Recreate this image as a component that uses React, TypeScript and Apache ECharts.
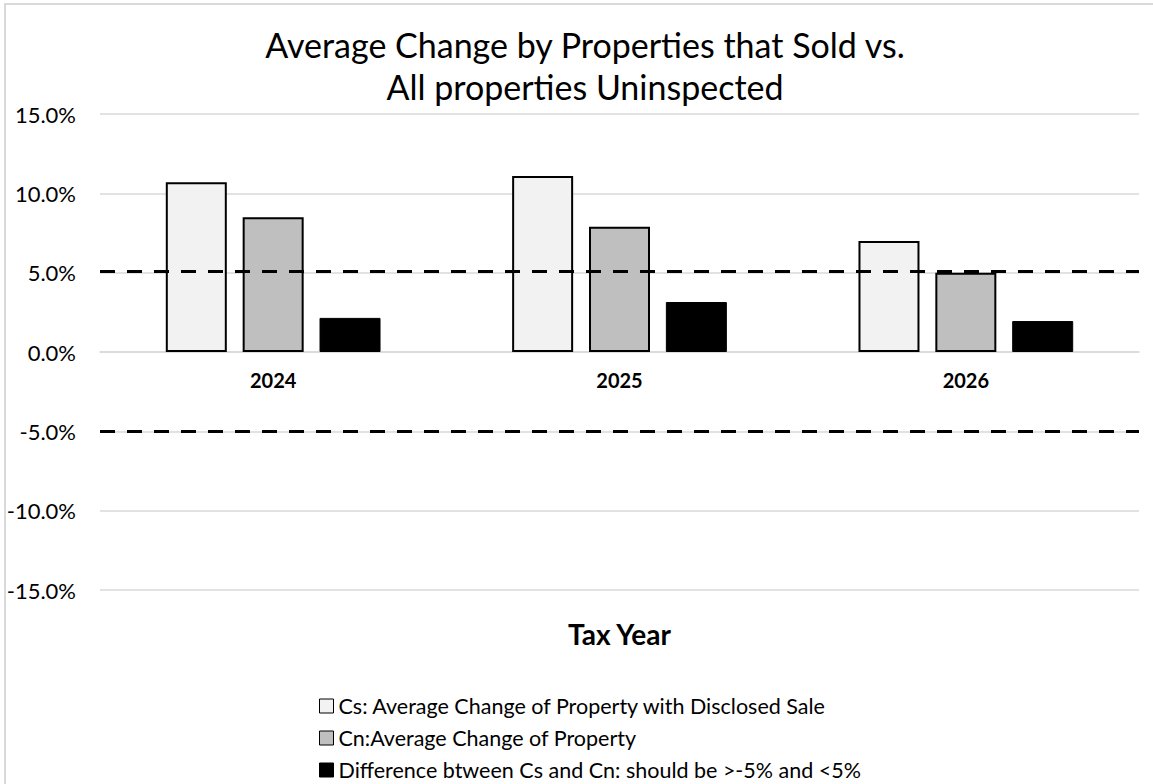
import React, { useEffect, useRef } from "react";
import * as echarts from "echarts";

const categories = ["2024", "2025", "2026"];
const csValues = [10.7, 11.1, 7.0];
const cnValues = [8.5, 7.9, 5.0];
const diffValues = [2.15, 3.15, 1.95];
const thresholdUpper = 5.1;
const thresholdLower = -5.0;
const seriesNames = [
  "Cs: Average Change of Property with Disclosed Sale",
  "Cn:Average Change of Property",
  "Difference btween Cs and Cn: should be >-5% and <5%",
];
const seriesColors = ["#f2f2f2", "#bfbfbf", "#000000"];
const titleLines = ["Average Change by Properties that Sold vs.", "All properties Uninspected"];
const xAxisTitle = "Tax Year";

const FONT = "Lato, 'Noto Sans', sans-serif";

export default function App() {
  const ref = useRef<HTMLDivElement>(null);
  useEffect(() => {
    document.body.style.margin = "0";
    const chart = echarts.init(ref.current!, null, { renderer: "svg" });
    const barBase = {
      type: "bar" as const,
      barWidth: 61,
      barGap: "26%",
    };
    const legendTops = [695, 727, 759];
    chart.setOption({
      animation: false,
      backgroundColor: "#ffffff",
      textStyle: { fontFamily: FONT },
      title: {
        text: titleLines.join("\n"),
        left: 580,
        top: 18,
        textAlign: "center",
        textStyle: {
          fontFamily: FONT,
          fontSize: 34,
          fontWeight: "normal",
          color: "#000",
          lineHeight: 42,
        },
      },
      graphic: [
        {
          type: "rect",
          shape: { x: 5, y: 4, width: 1160, height: 800 },
          style: { fill: "none", stroke: "#d9d9d9", lineWidth: 2 },
          silent: true,
          z: -1,
        },
      ],
      grid: {
        left: 100,
        top: 114,
        width: 1039,
        height: 476,
        containLabel: false,
        outerBoundsMode: "none",
      },
      legend: seriesNames.map((name, i) => ({
        orient: "horizontal",
        left: 319,
        top: legendTops[i],
        padding: 0,
        itemWidth: 14,
        itemHeight: 14,
        icon: "rect",
        textStyle: { fontFamily: FONT, fontSize: 21.5, color: "#000" },
        data: [
          {
            name,
            itemStyle: { color: seriesColors[i], borderColor: "#000", borderWidth: 1 },
          },
        ],
      })),
      xAxis: {
        type: "category",
        data: categories,
        position: "bottom",
        offset: -238,
        axisLine: { onZero: false, lineStyle: { color: "#d9d9d9", width: 1.5 } },
        axisTick: { show: false },
        axisLabel: {
          margin: 18,
          fontFamily: FONT,
          fontSize: 20,
          fontWeight: "bold",
          color: "#000",
        },
        name: xAxisTitle,
        nameLocation: "middle",
        nameGap: 268,
        nameTextStyle: { fontFamily: FONT, fontSize: 28, fontWeight: "bold", color: "#000" },
      },
      yAxis: {
        type: "value",
        min: -15,
        max: 15,
        interval: 5,
        axisLine: { show: false },
        axisTick: { show: false },
        splitLine: { lineStyle: { color: "#d9d9d9", width: 1.5 } },
        axisLabel: {
          margin: 24,
          fontFamily: FONT,
          fontSize: 22,
          color: "#000",
          formatter: (v: number) => v.toFixed(1) + "%",
        },
      },
      series: [
        {
          ...barBase,
          name: seriesNames[0],
          data: csValues,
          itemStyle: { color: seriesColors[0], borderColor: "#000", borderWidth: 2 },
          markLine: {
            silent: true,
            symbol: "none",
            label: { show: false },
            lineStyle: { color: "#000", width: 3, type: [15, 12] },
            data: [{ yAxis: thresholdUpper }, { yAxis: thresholdLower }],
            z: 10,
          },
          z: 2,
        },
        {
          ...barBase,
          name: seriesNames[1],
          data: cnValues,
          itemStyle: { color: seriesColors[1], borderColor: "#000", borderWidth: 2 },
          z: 2,
        },
        {
          ...barBase,
          name: seriesNames[2],
          data: diffValues,
          itemStyle: { color: seriesColors[2], borderColor: "#000", borderWidth: 1 },
          z: 2,
        },
      ],
    });
    return () => chart.dispose();
  }, []);
  return <div ref={ref} style={{ width: 1153, height: 784 }} />;
}
